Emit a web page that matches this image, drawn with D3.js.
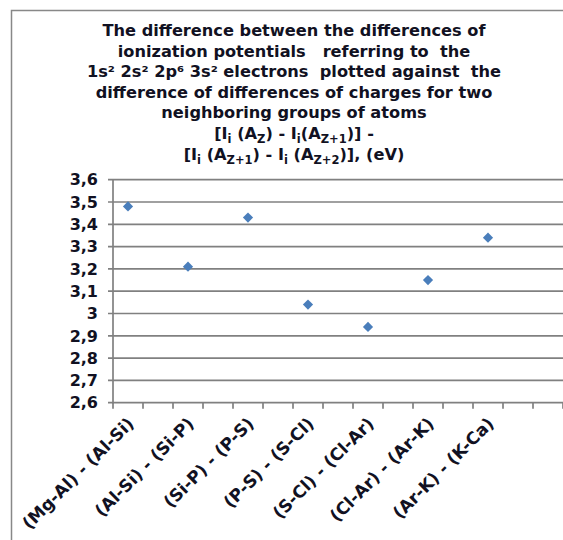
<!DOCTYPE html>
<html><head><meta charset="utf-8">
<script src="https://cdn.jsdelivr.net/npm/d3@7"></script>
<style>body{margin:0;background:#fff}svg{display:block}</style>
</head><body>
<script>
const categories = ["(Mg-Al) - (Al-Si)","(Al-Si) - (Si-P)","(Si-P) - (P-S)","(P-S) - (S-Cl)","(S-Cl) - (Cl-Ar)","(Cl-Ar) - (Ar-K)","(Ar-K) - (K-Ca)"];
const values = [3.48, 3.21, 3.43, 3.04, 2.94, 3.15, 3.34];
const yTicks = [2.6,2.7,2.8,2.9,3.0,3.1,3.2,3.3,3.4,3.5,3.6];
const slotCount = 15;

const W=563,H=540;
const svg=d3.select("body").append("svg").attr("width",W).attr("height",H);
const font="DejaVu Sans, Verdana, sans-serif";
const txt="#111122";

// frame
svg.append("path").attr("d",`M11.5,${H}V10.5H${W}`).attr("fill","none").attr("stroke","#888").attr("stroke-width",1.5);

// title
const titleLines=[
 [["The difference between the differences of","n"]],
 [["ionization potentials   referring to  the","n"]],
 [["1s² 2s² 2p⁶ 3s² electrons  plotted against  the","n"]],
 [["difference of differences of charges for two","n"]],
 [["neighboring groups of atoms","n"]],
 [["[I","n"],["i","s"],[" (A","n"],["Z","s"],[") - I","n"],["i","s"],["(A","n"],["Z+1","s"],[")] -","n"]],
 [["[I","n"],["i","s"],[" (A","n"],["Z+1","s"],[") - I","n"],["i","s"],[" (A","n"],["Z+2","s"],[")], (eV)","n"]]
];
const tg=svg.append("g");
titleLines.forEach((line,i)=>{
  const t=tg.append("text").attr("x",294).attr("y",36+i*20.6).attr("text-anchor","middle")
    .attr("font-family",font).attr("font-weight","bold").attr("font-size",16.2).attr("fill",txt)
    .attr("xml:space","preserve").style("white-space","pre");
  let sub=false;
  line.forEach(([s,k])=>{
    const sp=t.append("tspan").text(s);
    if(k==="s"){sp.attr("font-size",11.5).attr("dy",sub?0:4);sub=true;}
    else{ if(sub){sp.attr("dy",-4);} sub=false;}
  });
});

const x=d3.scaleLinear().domain([0,slotCount]).range([113,113+30*slotCount]);
const y=d3.scaleLinear().domain([2.6,3.6]).range([402.7,179.7]);

// gridlines
svg.append("g").selectAll("line").data(yTicks).join("line")
  .attr("x1",108).attr("x2",W).attr("y1",d=>y(d)).attr("y2",d=>y(d))
  .attr("stroke","#808080").attr("stroke-width",1.7);
// y axis line
svg.append("line").attr("x1",113).attr("x2",113).attr("y1",y(3.6)).attr("y2",y(2.6)+0.8)
  .attr("stroke","#808080").attr("stroke-width",1.7);
// x ticks
svg.append("g").selectAll("line").data(d3.range(0,slotCount+1)).join("line")
  .attr("x1",d=>x(d)).attr("x2",d=>x(d)).attr("y1",y(2.6)).attr("y2",y(2.6)+6)
  .attr("stroke","#808080").attr("stroke-width",1.7);

// y labels
svg.append("g").selectAll("text").data(yTicks).join("text")
  .attr("x",98).attr("y",d=>y(d)).attr("dy","0.36em").attr("text-anchor","end")
  .attr("font-family",font).attr("font-weight","bold").attr("font-size",16).attr("fill",txt)
  .text(d=>d3.format(".1f")(d).replace(".0","").replace(".",","));

// x labels
svg.append("g").selectAll("text").data(categories).join("text")
  .attr("transform",(d,i)=>`translate(${x(2*i+0.5)+7},${y(2.6)+22}) rotate(-45)`)
  .attr("text-anchor","end").attr("font-family",font).attr("font-weight","bold")
  .attr("font-size",17).attr("fill",txt).text(d=>d);

// points
svg.append("g").selectAll("path").data(values).join("path")
  .attr("d",d3.symbol(d3.symbolSquare,52))
  .attr("transform",(d,i)=>`translate(${x(2*i+0.5)},${y(d)}) rotate(45)`)
  .attr("fill","#4a7ebb");
</script>
</body></html>
